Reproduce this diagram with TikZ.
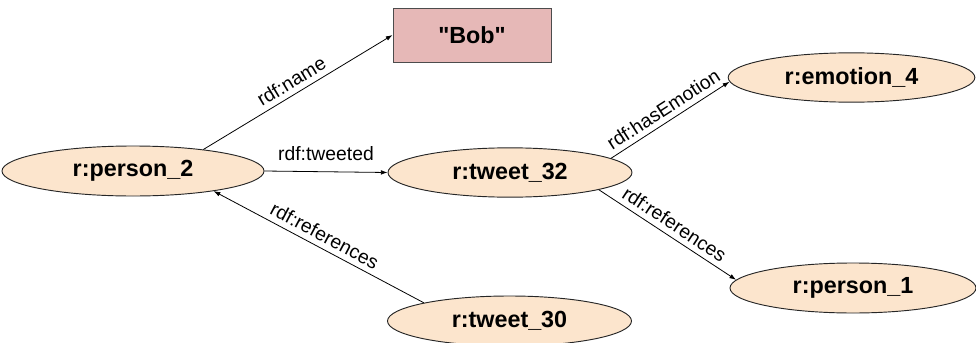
\documentclass[tikz,border=0pt]{standalone}
\usepackage{fontspec}
\setmainfont{Liberation Sans}[Ligatures=TeXOff]
\usetikzlibrary{shapes.geometric,arrows.meta}

\definecolor{resfill}{HTML}{FCE5CD}
\definecolor{litfill}{HTML}{E6B8B7}
\tikzset{
  res/.style={ellipse,draw=black!85,fill=resfill,line width=0.7pt,inner sep=0pt,
    font=\fontsize{17.5}{20}\selectfont\bfseries},
  lit/.style={rectangle,draw=black!70,fill=litfill,line width=0.7pt,inner sep=0pt,
    minimum width=118.5pt,minimum height=40.5pt,font=\fontsize{17.5}{20}\selectfont\bfseries},
  prop/.style={draw=black,line width=0.6pt,-{Latex[length=5pt,width=3.5pt]}},
  plabel/.style={font=\fontsize{14.5}{16}\selectfont,inner sep=4pt}
}

\begin{document}
\begin{tikzpicture}[x=0.75pt,y=-0.75pt]
\useasboundingbox (0,0) rectangle (976,343);

\node[res,minimum width=196.5pt,minimum height=37.5pt] (person2) at (133,171) {r:person\_2};
\node[res,minimum width=183pt,minimum height=37pt] (tweet32) at (510,172.5) {r:tweet\_32};
\node[res,minimum width=185pt,minimum height=37pt] (emotion4) at (851.5,77.5) {r:emotion\_4};
\node[res,minimum width=184.5pt,minimum height=37.5pt] (person1) at (853,288) {r:person\_1};
\node[res,minimum width=183pt,minimum height=37.5pt] (tweet30) at (509.5,321) {r:tweet\_30};
\node[lit] (bob) at (472,35) {"Bob"};

% edges
\draw[prop] (person2.17) -- (bob.west) node[plabel,midway,sloped,above] {rdf:name};
\draw[prop] (person2.east) -- (tweet32.west) node[plabel,midway,above,yshift=4pt] {rdf:tweeted};
\draw[prop] (tweet32.8) -- (emotion4.182) node[plabel,midway,sloped,above] {rdf:hasEmotion};
\draw[prop] (tweet32.-11) -- (person1.176) node[plabel,midway,sloped,above] {rdf:references};
\draw[prop] (tweet30.168) -- (person2.-14) node[plabel,midway,sloped,above] {rdf:references};

\end{tikzpicture}
\end{document}
